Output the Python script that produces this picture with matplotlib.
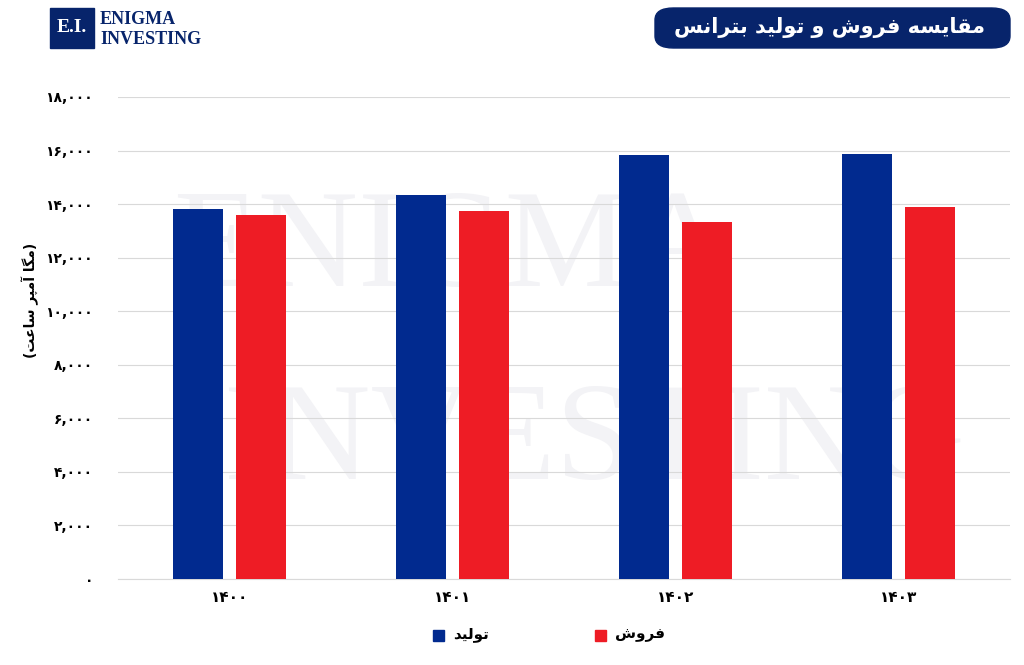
import matplotlib
matplotlib.use("Agg")
import matplotlib.pyplot as plt
from matplotlib.patches import FancyBboxPatch, Rectangle

categories = ["1400", "1401", "1402", "1403"]
production = [13800, 14350, 15850, 15880]
sales = [13600, 13750, 13330, 13900]
yticks = [0, 2000, 4000, 6000, 8000, 10000, 12000, 14000, 16000, 18000]

FORMS = {
 'ا': (0xFE8D, 0xFE8E, None, None), 'آ': (0xFE81, 0xFE82, None, None),
 'ب': (0xFE8F, 0xFE90, 0xFE91, 0xFE92), 'ت': (0xFE95, 0xFE96, 0xFE97, 0xFE98),
 'پ': (0xFB56, 0xFB57, 0xFB58, 0xFB59),
 'د': (0xFEA9, 0xFEAA, None, None), 'ر': (0xFEAD, 0xFEAE, None, None),
 'س': (0xFEB1, 0xFEB2, 0xFEB3, 0xFEB4), 'ش': (0xFEB5, 0xFEB6, 0xFEB7, 0xFEB8),
 'ع': (0xFEC9, 0xFECA, 0xFECB, 0xFECC), 'ف': (0xFED1, 0xFED2, 0xFED3, 0xFED4),
 'ق': (0xFED5, 0xFED6, 0xFED7, 0xFED8), 'ل': (0xFEDD, 0xFEDE, 0xFEDF, 0xFEE0),
 'م': (0xFEE1, 0xFEE2, 0xFEE3, 0xFEE4), 'ن': (0xFEE5, 0xFEE6, 0xFEE7, 0xFEE8),
 'ه': (0xFEE9, 0xFEEA, 0xFEEB, 0xFEEC), 'و': (0xFEED, 0xFEEE, None, None),
 'ی': (0xFBFC, 0xFBFD, 0xFBFE, 0xFBFF), 'گ': (0xFB92, 0xFB93, 0xFB94, 0xFB95),
}

def shape(s):
    out = []
    for i, c in enumerate(s):
        if c not in FORMS:
            out.append(c); continue
        prev = s[i-1] if i > 0 else ''
        nxt = s[i+1] if i + 1 < len(s) else ''
        jp = prev in FORMS and FORMS[prev][2] is not None
        jn = nxt in FORMS and FORMS[c][2] is not None
        f = FORMS[c]
        if jp and jn: code = f[3]
        elif jp: code = f[1]
        elif jn: code = f[2]
        else: code = f[0]
        out.append(chr(code))
    r = ''.join(out)[::-1]
    r = r.translate(str.maketrans('()', ')('))
    return r

def fa(s):
    return str(s).translate(str.maketrans('0123456789', '۰۱۲۳۴۵۶۷۸۹'))

NAVY = '#012A8F'
RED = '#EE1C25'
plt.rcParams['font.family'] = 'DejaVu Sans'

fig = plt.figure(figsize=(10.24, 6.65), dpi=100)
ax = fig.add_axes([118/1024, 1-579/665, 892/1024, (579-97)/665])
ax.set_zorder(2)
ax.patch.set_visible(False)

x = list(range(len(categories)))
w = 0.228
ax.bar([i - 0.141 for i in x], production, width=w, color=NAVY, zorder=3)
ax.bar([i + 0.141 for i in x], sales, width=w, color=RED, zorder=3)
ax.set_xlim(-0.5, 3.5)
ax.set_ylim(0, 18000)
ax.set_yticks(yticks)
ax.set_yticklabels([fa(f"{v:,}") for v in yticks], fontsize=10, fontweight='bold')
ax.set_xticks(x)
ax.set_xticklabels([fa(c) for c in categories], fontsize=11, fontweight='bold')
ax.grid(axis='y', color='#D9D9D9', lw=0.8, zorder=0)
for s in ['top', 'right', 'left']:
    ax.spines[s].set_visible(False)
ax.spines['bottom'].set_color('#D9D9D9')
ax.tick_params(length=0, pad=8)
ax.tick_params(axis='y', pad=18)

# watermark
fig.text(0.44, 0.62, 'ENIGMA', fontsize=100, color='#F3F3F6', ha='center', va='center', family='Liberation Serif', zorder=0)
fig.text(0.58, 0.33, 'INVESTING', fontsize=100, color='#F3F3F6', ha='center', va='center', family='Liberation Serif', zorder=0)

fig.text(30/1024, 1-300/665, shape('(مگا آمپر ساعت)'), rotation=90, fontsize=10, fontweight='bold', ha='center', va='center')

# title box
fig.patches.append(FancyBboxPatch((655/1024, 1-48/665), 355/1024, 40/665, boxstyle='round,pad=0,rounding_size=0.018',
                                  transform=fig.transFigure, color='#07246B', zorder=5))
fig.text(985/1024, 1-28/665, shape('مقایسه فروش و تولید بترانس'), color='white', fontsize=15, fontweight='bold', ha='right', va='center', zorder=6)

# logo
fig.patches.append(Rectangle((50/1024, 1-48/665), 44/1024, 40/665, transform=fig.transFigure, color='#07246B', zorder=5))
fig.text(72/1024, 1-28/665, 'E.I.', color='white', fontsize=14, family='Liberation Serif', fontweight='bold', ha='center', va='center', zorder=6)
fig.text(100/1024, 1-19/665, 'ENIGMA', color='#07246B', fontsize=13, family='Liberation Serif', fontweight='bold', ha='left', va='center')
fig.text(100/1024, 1-40/665, 'INVESTING', color='#07246B', fontsize=13, family='Liberation Serif', fontweight='bold', ha='left', va='center')

# legend
fig.patches.append(Rectangle((433/1024, 1-641/665), 11/1024, 11/665, transform=fig.transFigure, color=NAVY))
fig.text(453/1024, 1-635/665, shape('تولید'), fontsize=11, fontweight='bold', ha='left', va='center')
fig.patches.append(Rectangle((595/1024, 1-641/665), 11/1024, 11/665, transform=fig.transFigure, color=RED))
fig.text(615/1024, 1-635/665, shape('فروش'), fontsize=11, fontweight='bold', ha='left', va='center')

fig.savefig('out.png', dpi=100)
